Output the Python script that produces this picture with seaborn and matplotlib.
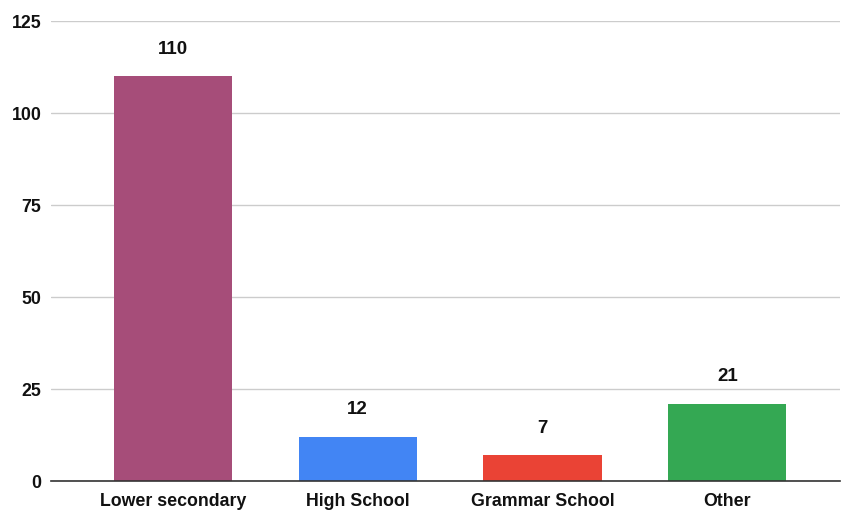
import matplotlib
matplotlib.use("Agg")
import matplotlib.pyplot as plt
import seaborn as sns
import pandas as pd

categories = ["Lower secondary", "High School", "Grammar School", "Other"]
counts = [110, 12, 7, 21]
bar_colors = ["#A64D79", "#4285F4", "#EA4335", "#34A853"]
y_ticks = [0, 25, 50, 75, 100, 125]

sns.set_theme(style="white")
plt.rcParams["font.family"] = ["Liberation Sans", "DejaVu Sans"]
plt.rcParams["font.weight"] = "bold"

df = pd.DataFrame({"category": categories, "count": counts})

fig = plt.figure(figsize=(8.42, 5.12), dpi=100)
ax = fig.add_axes([51 / 842, 1 - 481 / 512, 789 / 842, 460 / 512])

sns.barplot(data=df, x="category", y="count", hue="category",
            palette=bar_colors, legend=False, width=0.64, saturation=1,
            linewidth=0, edgecolor="none", ax=ax)

ax.set_ylim(0, 125)
ax.set_xlim(-0.66, 3.61)
ax.set_yticks(y_ticks)
ax.set_yticklabels([str(t) for t in y_ticks], fontsize=12.8, fontweight="bold", color="#111111")
ax.set_xticks(range(len(categories)))
ax.set_xticklabels(categories, fontsize=12.8, fontweight="bold", color="#111111")
ax.tick_params(axis="y", length=0, pad=7)
ax.tick_params(axis="x", length=0, pad=8.5)
ax.set_xlabel("")
ax.set_ylabel("")

ax.grid(axis="y", color="#cccccc", linewidth=1)
ax.set_axisbelow(True)
for side in ["top", "right", "left"]:
    ax.spines[side].set_visible(False)
ax.spines["bottom"].set_color("#333333")
ax.spines["bottom"].set_linewidth(1.2)
ax.spines["bottom"].set_zorder(5)

for i, v in enumerate(counts):
    ax.annotate(str(v), (i, v), xytext=(0, 19.5), textcoords="offset points",
                ha="center", va="center", fontsize=13.5, fontweight="bold",
                color="#111111")

fig.savefig("out.png", dpi=100)
